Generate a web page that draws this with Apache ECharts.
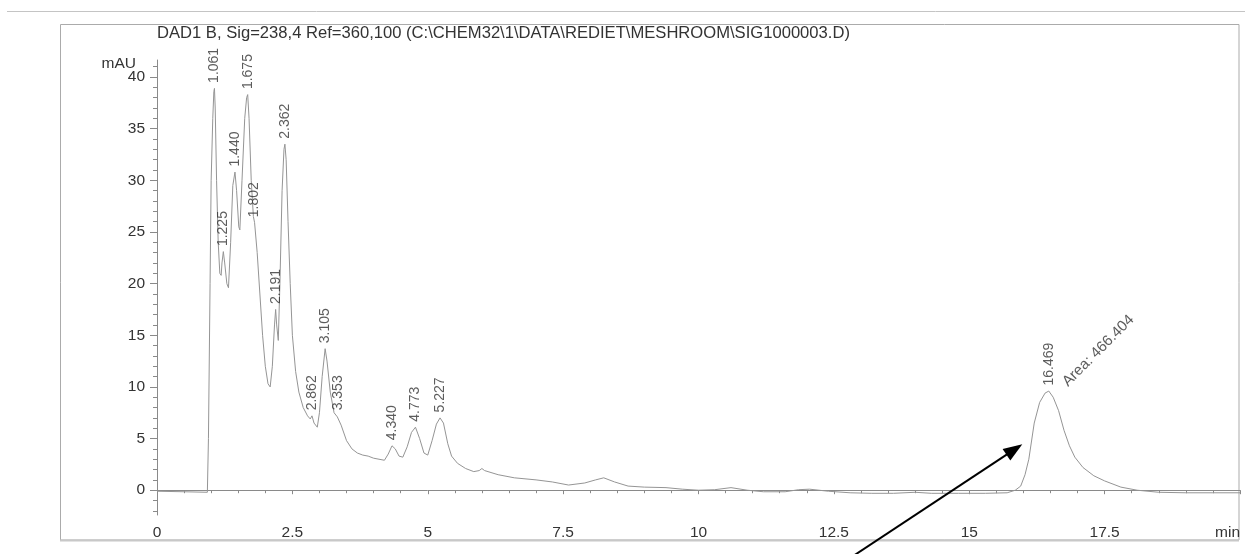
<!DOCTYPE html>
<html>
<head>
<meta charset="utf-8">
<script src="https://cdn.jsdelivr.net/npm/echarts@6/dist/echarts.min.js"></script>
<style>
  html, body { margin: 0; padding: 0; background: #ffffff; }
  #chart { width: 1245px; height: 554px; }
</style>
</head>
<body>
<div id="chart"></div>
<script>
// Signal header
const titleText = 'DAD1 B, Sig=238,4 Ref=360,100 (C:\\CHEM32\\1\\DATA\\REDIET\\MESHROOM\\SIG1000003.D)';

// Detector trace: retention time (min) and absorbance (mAU)
const traceTime = [
  0, 0.5, 0.93, 0.95, 0.98, 1.0, 1.03, 1.05, 1.061, 1.075, 1.1, 1.13, 1.16, 1.185, 1.2, 1.225, 1.25, 1.29, 1.32,
  1.36, 1.4, 1.44, 1.47, 1.51, 1.53, 1.57, 1.62, 1.655, 1.675, 1.7, 1.74, 1.78, 1.802, 1.85, 1.9, 1.95, 2.0,
  2.05, 2.09, 2.13, 2.17, 2.191, 2.21, 2.24, 2.27, 2.31, 2.345, 2.362, 2.385, 2.42, 2.46, 2.5, 2.56, 2.62, 2.7,
  2.78, 2.83, 2.862, 2.9, 2.96, 3.0, 3.05, 3.105, 3.14, 3.2, 3.27, 3.33, 3.353, 3.4, 3.5, 3.6, 3.7, 3.8, 3.9,
  4.0, 4.1, 4.2, 4.27, 4.34, 4.4, 4.47, 4.54, 4.62, 4.7, 4.773, 4.85, 4.93, 5.0, 5.08, 5.16, 5.227, 5.29, 5.37,
  5.44, 5.55, 5.7, 5.85, 5.95, 6.0, 6.05, 6.3, 6.6, 7.0, 7.3, 7.6, 7.9, 8.1, 8.25, 8.45, 8.7, 9.0, 9.4, 9.7,
  10.0, 10.3, 10.6, 10.9, 11.2, 11.6, 11.85, 12.05, 12.4, 12.8, 13.2, 13.6, 14.0, 14.3, 14.8, 15.3, 15.7, 15.85,
  15.95, 16.03, 16.1, 16.2, 16.3, 16.4, 16.469, 16.55, 16.65, 16.75, 16.85, 16.95, 17.1, 17.3, 17.5, 17.8, 18.1,
  18.5, 19.0, 19.5, 20.0
];
const traceSignal = [
  -0.1, -0.15, -0.2, 5, 20, 30, 36, 38.6, 38.9, 37, 30, 24, 21, 20.8, 22, 23.1, 22, 20, 19.6,
  24, 29.5, 30.8, 29, 25.5, 25.2, 30, 36, 38, 38.3, 36, 30, 26.5, 25.9, 23, 19, 15, 12,
  10.3, 10, 12, 16, 17.5, 16, 14.5, 20, 29, 33, 33.5, 32, 26, 20, 15, 11.5, 9.5, 8,
  7.2, 6.9, 7.2, 6.5, 6.1, 7.5, 11, 13.7, 12.5, 9.5, 7.5, 7.1, 7.2, 6.3, 4.8, 4.0, 3.6, 3.4, 3.3,
  3.1, 3.0, 2.9, 3.5, 4.3, 4.0, 3.3, 3.2, 4.2, 5.6, 6.1, 5.0, 3.6, 3.4, 4.8, 6.4, 7.0, 6.5, 4.5,
  3.3, 2.6, 2.1, 1.8, 1.9, 2.1, 1.9, 1.5, 1.2, 1.0, 0.8, 0.5, 0.7, 1.0, 1.2, 0.8, 0.4, 0.3, 0.25, 0.1,
  0.0, 0.05, 0.25, 0.0, -0.15, -0.15, 0.05, 0.1, -0.1, -0.25, -0.3, -0.3, -0.2, -0.3, -0.3, -0.3, -0.25, 0.0,
  0.4, 1.5, 3.0, 6.5, 8.5, 9.4, 9.6, 9.0, 7.7, 5.8, 4.3, 3.2, 2.2, 1.4, 0.9, 0.3, 0.0,
  -0.2, -0.25, -0.25, -0.25
];

// Integrated peaks: retention time (min) and apex height (mAU)
const peakTimes   = [1.061, 1.225, 1.440, 1.675, 1.802, 2.191, 2.362, 2.862, 3.105, 3.353, 4.340, 4.773, 5.227, 16.469];
const peakHeights = [38.9, 23.1, 30.8, 38.3, 25.9, 17.5, 33.5, 7.2, 13.7, 7.2, 4.3, 6.1, 7.0, 9.6];

// Manually integrated peak with its reported area
const areaPeakTime = 16.469;
const areaPeakHeight = 9.6;
const areaPeakValue = 466.404;

// Axis ranges and ticks
const xMin = 0, xMax = 20, xStep = 2.5;
const yMin = -2.4, yMax = 41.65;
const yMajorTicks = [0, 5, 10, 15, 20, 25, 30, 35, 40];
const yMinorTicks = [-2, -1, 0, 1, 2, 3, 4, 5, 6, 7, 8, 9, 10, 11, 12, 13, 14, 15, 16, 17, 18, 19, 20,
  21, 22, 23, 24, 25, 26, 27, 28, 29, 30, 31, 32, 33, 34, 35, 36, 37, 38, 39, 40, 41];

// Pointer arrow towards the 16.469 min peak (time, mAU)
const arrowTail = [12.79, -6.6];
const arrowHead = [15.98, 4.45];

const FONT = '"Liberation Sans", Arial, Helvetica, sans-serif';
const TEXT = '#333333';
const AXIS = '#8a8a8a';

const traceData = traceTime.map((t, i) => [t, traceSignal[i]]);
const peakData = peakTimes.map((t, i) => [t, peakHeights[i]]);

// Draws a straight pointer with a filled head, positioned through the axes
function renderArrow(params, api) {
  const p0 = api.coord(arrowTail);
  const p1 = api.coord(arrowHead);
  const dx = p1[0] - p0[0], dy = p1[1] - p0[1];
  const len = Math.sqrt(dx * dx + dy * dy);
  const ux = dx / len, uy = dy / len;
  const headLen = 19, headHalf = 7;
  const bx = p1[0] - ux * headLen, by = p1[1] - uy * headLen;
  return {
    type: 'group',
    children: [
      { type: 'line', shape: { x1: p0[0], y1: p0[1], x2: bx + ux * 2, y2: by + uy * 2 },
        style: { stroke: '#000000', lineWidth: 2 } },
      { type: 'polygon',
        shape: { points: [[p1[0], p1[1]], [bx - uy * headHalf, by + ux * headHalf], [bx + uy * headHalf, by - ux * headHalf]] },
        style: { fill: '#000000' } }
    ]
  };
}

const chart = echarts.init(document.getElementById('chart'), null, { renderer: 'canvas' });

chart.setOption({
  animation: false,
  backgroundColor: '#ffffff',
  textStyle: { fontFamily: FONT },
  title: {
    text: titleText,
    left: 152,
    top: 20,
    textStyle: { fontFamily: FONT, fontSize: 16.6, fontWeight: 'normal', color: TEXT }
  },
  graphic: [
    // report header rule
    { type: 'line', silent: true, z: -1, shape: { x1: 7, y1: 11.5, x2: 1245, y2: 11.5 },
      style: { stroke: '#c4c4c4', lineWidth: 1 } },
    // signal frame
    { type: 'rect', silent: true, z: -1, shape: { x: 60.5, y: 24.5, width: 1178.5, height: 515.5 },
      style: { fill: 'none', stroke: '#ababab', lineWidth: 1 } },
    { type: 'line', silent: true, z: -1, shape: { x1: 60, y1: 540.5, x2: 1239, y2: 540.5 },
      style: { stroke: '#c8c8c8', lineWidth: 2 } }
  ],
  grid: { left: 157, right: 5, top: 60, bottom: 39, containLabel: false },
  xAxis: {
    type: 'value',
    min: xMin, max: xMax, interval: xStep,
    axisLine: { show: true, lineStyle: { color: AXIS, width: 1 } },
    axisTick: { show: true, length: 4, lineStyle: { color: AXIS } },
    minorTick: { show: true, splitNumber: 5, length: 3, lineStyle: { color: AXIS } },
    splitLine: { show: false },
    minorSplitLine: { show: false },
    axisLabel: {
      color: TEXT, fontSize: 15.5, fontFamily: FONT, margin: 10,
      showMaxLabel: true, alignMaxLabel: 'right',
      formatter: v => (v === xMax ? 'min' : String(v))
    }
  },
  yAxis: [
    {
      type: 'value', min: yMin, max: yMax, position: 'left',
      name: 'mAU', nameLocation: 'end', nameGap: 4, nameMoveOverlap: false,
      nameTextStyle: { color: TEXT, fontSize: 15.5, fontFamily: FONT, align: 'right', verticalAlign: 'top', padding: [0, 21, 0, 0] },
      axisLine: { show: true, lineStyle: { color: AXIS, width: 1 } },
      axisTick: { show: true, length: 7, customValues: yMajorTicks, lineStyle: { color: AXIS } },
      axisLabel: { color: TEXT, fontSize: 15.5, fontFamily: FONT, margin: 12, customValues: yMajorTicks },
      splitLine: { show: false }
    },
    {
      type: 'value', min: yMin, max: yMax, position: 'left',
      axisLine: { show: false },
      axisTick: { show: true, length: 4, customValues: yMinorTicks, lineStyle: { color: AXIS } },
      axisLabel: { show: false },
      splitLine: { show: false }
    }
  ],
  series: [
    {
      name: 'DAD1 B',
      type: 'line',
      data: traceData,
      showSymbol: false,
      symbol: 'none',
      lineStyle: { color: '#959595', width: 1 },
      z: 2
    },
    {
      name: 'peaks',
      type: 'scatter',
      data: peakData,
      symbolSize: 1,
      itemStyle: { color: 'rgba(0,0,0,0)' },
      z: 3,
      label: {
        show: true,
        position: 'top',
        distance: 5,
        rotate: 90,
        align: 'left',
        verticalAlign: 'middle',
        color: TEXT,
        fontSize: 14,
        fontFamily: FONT,
        formatter: p => p.value[0].toFixed(3)
      }
    },
    {
      name: 'area',
      type: 'scatter',
      data: [[areaPeakTime, areaPeakHeight]],
      symbolSize: 1,
      itemStyle: { color: 'rgba(0,0,0,0)' },
      z: 3,
      label: {
        show: true,
        position: 'top',
        distance: 0,
        rotate: 45,
        align: 'left',
        verticalAlign: 'middle',
        offset: [16, 7],
        color: TEXT,
        fontSize: 15,
        fontFamily: FONT,
        formatter: () => 'Area: ' + areaPeakValue.toFixed(3)
      }
    },
    {
      name: 'pointer',
      type: 'custom',
      data: [arrowHead],
      clip: false,
      silent: true,
      z: 5,
      renderItem: renderArrow
    }
  ]
});
</script>
</body>
</html>
